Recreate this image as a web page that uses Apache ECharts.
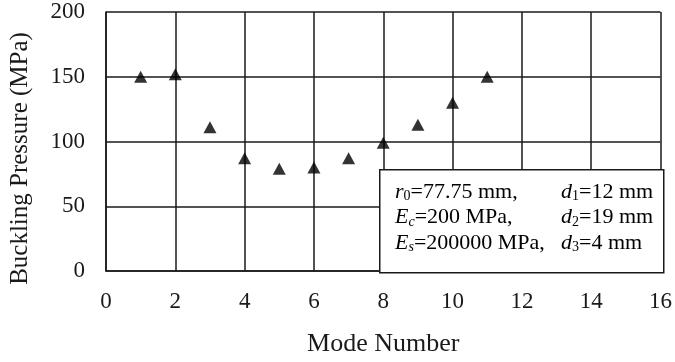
<!DOCTYPE html>
<html>
<head>
<meta charset="utf-8">
<script src="https://cdn.jsdelivr.net/npm/echarts@6/dist/echarts.min.js"></script>
<style>
  html, body { margin: 0; padding: 0; background: #fff; }
  #chart { width: 675px; height: 362px; }
</style>
</head>
<body>
<div id="chart"></div>
<script>
// mode numbers and buckling pressures
const modes = [1, 2, 3, 4, 5, 6, 7, 8, 9, 10, 11]
const pressures = [150, 152, 111, 87, 79, 80, 87, 99, 113, 130, 150]

const serif = "'Liberation Serif', 'Times New Roman', serif"
const ink = '#1a1a1a'

const chart = echarts.init(document.getElementById('chart'))

// rich-text styles for the parameter box (italic symbols + subscripts)
const rich = {
  t: { fontFamily: serif, fontSize: 22, color: ink },
  i: { fontFamily: serif, fontSize: 22, fontStyle: 'italic', color: ink },
  s: { fontFamily: serif, fontSize: 14, color: ink, padding: [10, 0, 0, 0] },
  si: { fontFamily: serif, fontSize: 14, fontStyle: 'italic', color: ink, padding: [10, 0, 0, 0] },
}

chart.setOption({
  animation: false,
  grid: { left: 105, right: 12, top: 12, bottom: 89 },
  xAxis: {
    type: 'value',
    min: 0,
    max: 16,
    interval: 2,
    name: 'Mode Number',
    nameLocation: 'middle',
    nameGap: 60,
    nameTextStyle: { fontFamily: serif, fontSize: 26, color: ink },
    axisLine: { lineStyle: { color: ink, width: 1.5 } },
    axisTick: { show: false },
    axisLabel: { fontFamily: serif, fontSize: 23, color: ink, margin: 19 },
    splitLine: { lineStyle: { color: ink, width: 1.5 } },
  },
  yAxis: {
    type: 'value',
    min: 0,
    max: 200,
    interval: 50,
    name: 'Buckling Pressure (MPa)',
    nameLocation: 'middle',
    nameGap: 73,
    // the title sits a little below the plot centre in the original
    nameTextStyle: { fontFamily: serif, fontSize: 25, color: ink, padding: [0, 34, 0, 0] },
    axisLine: { show: true, lineStyle: { color: ink, width: 1.5 } },
    axisTick: { show: false },
    axisLabel: { fontFamily: serif, fontSize: 23, color: ink, margin: 21 },
    splitLine: { lineStyle: { color: ink, width: 1.5 } },
  },
  series: [
    {
      type: 'scatter',
      data: modes.map((m, i) => [m, pressures[i]]),
      symbol: 'triangle',
      symbolSize: [13, 12],
      itemStyle: { color: '#000' },
      z: 3,
    },
  ],
  graphic: [
    {
      type: 'rect',
      left: 379,
      top: 169,
      shape: { width: 284, height: 103 },
      style: { fill: '#fff', stroke: ink, lineWidth: 1.5 },
      z: 100,
    },
    {
      type: 'text',
      left: 395,
      top: 179,
      z: 101,
      style: {
        text: '{i|r}{s|0}{t|=77.75 mm,}\n{i|E}{si|c}{t|=200 MPa,}\n{i|E}{si|s}{t|=200000 MPa,}',
        rich: rich,
        lineHeight: 25.5,
      },
    },
    {
      type: 'text',
      left: 561,
      top: 179,
      z: 101,
      style: {
        text: '{i|d}{s|1}{t|=12 mm}\n{i|d}{s|2}{t|=19 mm}\n{i|d}{s|3}{t|=4 mm}',
        rich: rich,
        lineHeight: 25.5,
      },
    },
  ],
})
</script>
</body>
</html>
